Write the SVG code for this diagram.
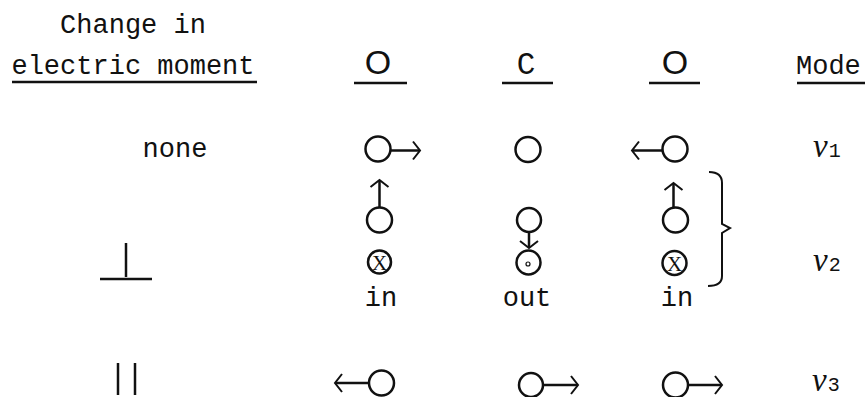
<svg xmlns="http://www.w3.org/2000/svg" width="865" height="397" viewBox="0 0 865 397">
<style>
  .t { font-family: "Liberation Mono", "DejaVu Sans Mono", monospace; font-size: 27px; fill: #111; }
  .atom { font-family: "Liberation Sans", Arial, sans-serif; font-size: 34px; fill: #111; }
  .nu { font-family: "Liberation Serif", "DejaVu Serif", serif; font-style: italic; font-size: 33px; fill: #111; }
  .sub { font-family: "Liberation Mono", monospace; font-style: normal; font-size: 20px; }
  .ring { fill: none; stroke: #111; stroke-width: 2.5; }
  .vec { fill: none; stroke: #111; stroke-width: 2.5; marker-end: url(#head); }
  .rule { stroke: #111; stroke-width: 2.5; }
  .x { font-family: "Liberation Serif", serif; font-size: 21px; fill: #111; }
</style>
<defs>
  <marker id="head" markerUnits="userSpaceOnUse" viewBox="-10 -12 12 24" refX="0" refY="0" markerWidth="12" markerHeight="24" orient="auto" overflow="visible">
    <path d="M-7,-9 L0,0 L-7,9" fill="none" stroke="#111" stroke-width="2"/>
  </marker>
</defs>

<g id="header-change">
  <text class="t" x="133" y="33" text-anchor="middle">Change in</text>
  <text class="t" x="133" y="74" text-anchor="middle">electric moment</text>
  <line class="rule" x1="12" y1="82" x2="257" y2="82"/>
</g>
<g id="header-O1">
  <text class="atom" x="378" y="74" text-anchor="middle">O</text>
  <line class="rule" x1="354" y1="83" x2="407" y2="83"/>
</g>
<g id="header-C">
  <text class="t" x="526" y="74" text-anchor="middle" style="font-size:31px">C</text>
  <line class="rule" x1="502" y1="83" x2="553" y2="83"/>
</g>
<g id="header-O2">
  <text class="atom" x="675" y="74" text-anchor="middle">O</text>
  <line class="rule" x1="649" y1="83" x2="700" y2="83"/>
</g>
<g id="header-mode">
  <text class="t" x="796" y="74">Mode</text>
  <line class="rule" x1="797" y1="83" x2="865" y2="83"/>
</g>

<!-- Row 1: nu1 -->
<g id="row1-label"><text class="t" x="175" y="157" text-anchor="middle">none</text></g>
<g id="row1-O1">
  <circle class="ring" cx="378" cy="149" r="12.5"/>
</g>
<g id="row1-C"><circle class="ring" cx="528" cy="149.5" r="12.5"/></g>
<g id="row1-O2">
  <circle class="ring" cx="675" cy="149" r="12.5"/>
</g>
<g id="row1-mode"><text class="nu" x="813" y="157">ν<tspan class="sub" dx="1">1</tspan></text></g>

<!-- Row 2: nu2 -->
<g id="row2-label">
  <line class="rule" x1="126" y1="243" x2="126" y2="277"/>
  <line class="rule" x1="100" y1="279" x2="152" y2="279"/>
</g>
<g id="row2-O1">
  <circle class="ring" cx="379.5" cy="220" r="12.5"/>
  <circle class="ring" cx="379.5" cy="262" r="11.5"/>
  <text class="x" x="379.5" y="269.5" text-anchor="middle">X</text>
  <text class="t" x="381" y="306" text-anchor="middle">in</text>
</g>
<g id="row2-C">
  <circle class="ring" cx="529" cy="220" r="12"/>
  <circle class="ring" cx="528.5" cy="262.5" r="12"/>
  <circle fill="none" stroke="#111" stroke-width="1.2" cx="528" cy="264" r="2"/>
  <text class="t" x="527" y="306" text-anchor="middle">out</text>
</g>
<g id="row2-O2">
  <circle class="ring" cx="675.5" cy="220" r="12.5"/>
  <circle class="ring" cx="674.5" cy="263" r="12"/>
  <text class="x" x="674.5" y="270.5" text-anchor="middle">X</text>
  <text class="t" x="677" y="306" text-anchor="middle">in</text>
</g>
<g id="row2-brace">
  <path d="M709,172 Q722,172 722,183 L722,224 L730,228 L722,233 L722,276 Q722,286 708,286" fill="none" stroke="#111" stroke-width="2"/>
</g>
<g id="row2-mode"><text class="nu" x="813" y="271">ν<tspan class="sub" dx="1">2</tspan></text></g>

<!-- Row 3: nu3 -->
<g id="row3-label">
  <line class="rule" x1="118" y1="363" x2="118" y2="395"/>
  <line class="rule" x1="135" y1="363" x2="135" y2="395"/>
</g>
<g id="row3-O1"><circle class="ring" cx="381.5" cy="383" r="12.5"/></g>
<g id="row3-C"><circle class="ring" cx="531" cy="385" r="12"/></g>
<g id="row3-O2"><circle class="ring" cx="675.5" cy="385" r="12.5"/></g>
<g id="row3-mode"><text class="nu" x="812" y="391">ν<tspan class="sub" dx="1">3</tspan></text></g>

<g id="connectors">
  <line class="vec" x1="391" y1="150.5" x2="420" y2="150.5"/>
  <line class="vec" x1="662" y1="150.5" x2="632" y2="150.5"/>
  <line class="vec" x1="379.5" y1="207.5" x2="379.5" y2="180"/>
  <line class="vec" x1="529" y1="232" x2="529" y2="248"/>
  <line class="vec" x1="673.5" y1="207.5" x2="673.5" y2="183"/>
  <line class="vec" x1="369" y1="383" x2="335" y2="383"/>
  <line class="vec" x1="543" y1="385" x2="578" y2="385"/>
  <line class="vec" x1="688" y1="385" x2="722" y2="385"/>
</g>
</svg>
